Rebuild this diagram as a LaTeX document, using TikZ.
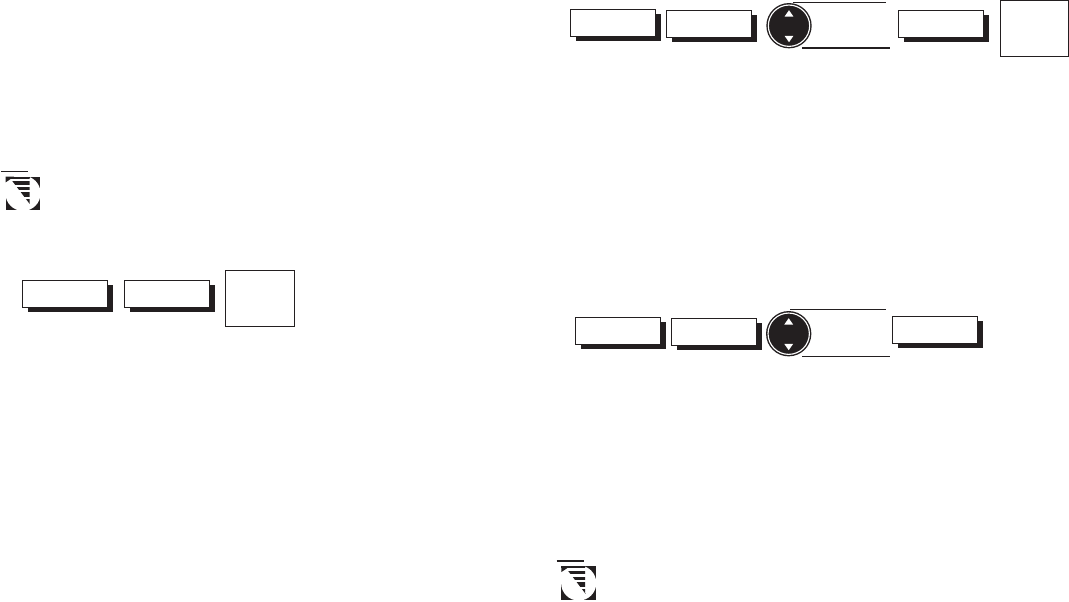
\documentclass[tikz,border=0pt]{standalone}
\definecolor{ink}{HTML}{231F20}
\tikzset{
  x=0.75pt,y=-0.75pt,
  ink line/.style={draw=ink,line width=0.8pt},
  keybox/.style={rectangle,draw=ink,fill=white,line width=0.9pt,minimum width=64pt,minimum height=20.25pt,inner sep=0pt,outer sep=0pt,anchor=north west},
  keyshadow/.style={rectangle,fill=ink,draw=none,minimum width=64pt,minimum height=20.25pt,inner sep=0pt,outer sep=0pt,anchor=north west},
  squarebox/.style={rectangle,draw=ink,fill=white,line width=0.9pt,minimum width=51.6pt,minimum height=42pt,inner sep=0pt,outer sep=0pt,anchor=north west},
  knobouter/.style={circle,fill=ink,minimum size=34pt,inner sep=0pt,outer sep=0pt},
  knobring/.style={circle,draw=white,line width=0.85pt,minimum size=31pt,inner sep=0pt,outer sep=0pt},
  tipmark/.style={fill=white,draw=none}
}
\newcommand{\keycap}[3]{%
  \node[keyshadow] (#1s) at (#2+5.2,#3+4.3) {};
  \node[keybox] (#1) at (#2,#3) {};}
\newcommand{\knob}[3]{%
  \node[knobouter] (#1) at (#2,#3) {};
  \node[knobring] (#1r) at (#2,#3) {};
  \fill[tipmark] (#2,#3-15.5) -- (#2+4.4,#3-9.2) -- (#2-4.4,#3-9.2) -- cycle;
  \fill[tipmark] (#2,#3+16.5) -- (#2+4.4,#3+10.2) -- (#2-4.4,#3+10.2) -- cycle;}
\newcommand{\noteicon}[2]{%
  \begin{scope}[shift={(#1,#2)}]
    \draw[ink line] (1,0) -- (28,0);
    \fill[ink] (5.7,5.4) rectangle (40,38.7);
    \fill[white] (23,22) circle (17.6);
    \fill[white] (5.7,7) rectangle (20,22);
    \fill[ink] (5.7,5.4) -- (14,5.4) -- (5.7,11) -- cycle;
    \begin{scope}
      \clip (9,5.4) -- (29.5,5.4) -- (29.5,33) -- (30,33) -- cycle;
      \foreach \ya/\yb in {5.4/7.3,10/13.4,15.7/19,21/26,27.5/32.5} {\fill[ink] (0,\ya) rectangle (31,\yb);}
    \end{scope}
    \fill[ink] (5.7,5.4) rectangle (29.5,6.6);
  \end{scope}}
\begin{document}
\begin{tikzpicture}
\useasboundingbox (0,0) rectangle (1069,601);
\keycap{la}{22.5}{280.3}
\keycap{lb}{124.3}{280.3}
\node[squarebox] (lc) at (225.3,270.3) {};
\noteicon{0}{171.3}
\keycap{ta}{570.3}{9.3}
\keycap{tb}{666.3}{10.3}
\knob{tk}{789}{25.7}
\coordinate (tl1) at (793,2.3); \coordinate (tl2) at (886,2.3);
\coordinate (tl3) at (802,48); \coordinate (tl4) at (890,48);
\draw[ink line] (tl1) -- (tl2);
\draw[ink line] (tl3) -- (tl4);
\keycap{tc}{898.3}{10.3}
\node[squarebox,minimum width=51.2pt] (td) at (1000.3,0.6) {};
\keycap{ba}{575.3}{317.3}
\keycap{bb}{671.3}{318.3}
\knob{bk}{788.7}{333.7}
\coordinate (bl1) at (790,309.7); \coordinate (bl2) at (886,309.7);
\coordinate (bl3) at (802,356.7); \coordinate (bl4) at (890,356.7);
\draw[ink line] (bl1) -- (bl2);
\draw[ink line] (bl3) -- (bl4);
\keycap{bc}{892.3}{316.3}
\noteicon{555.7}{561}
\end{tikzpicture}
\end{document}
